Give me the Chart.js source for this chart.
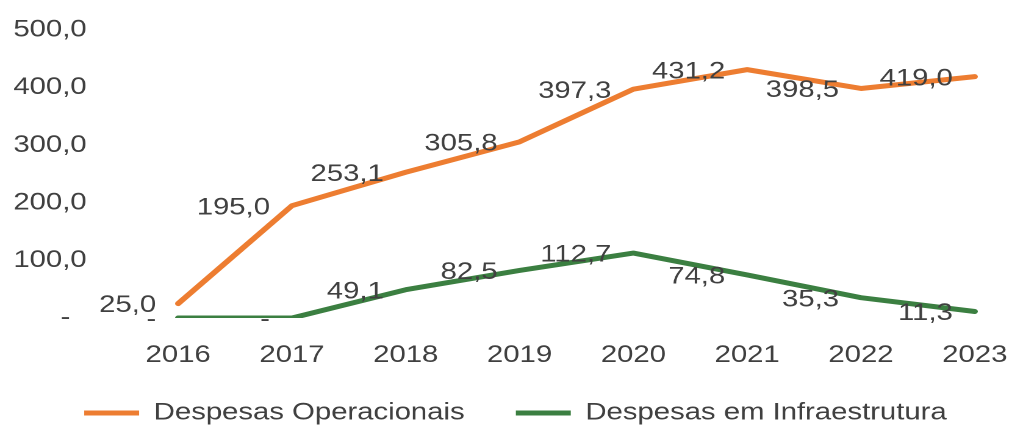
<!DOCTYPE html>
<html><head><meta charset="utf-8">
<script src="https://cdn.jsdelivr.net/npm/chart.js@4.4.0/dist/chart.umd.min.js"></script>
<style>
html,body{margin:0;padding:0;background:#fff;overflow:hidden;}
#wrap{position:absolute;left:0;top:0;width:827px;height:427px;transform:scaleX(1.22);transform-origin:0 0;}
</style></head><body>
<div id="wrap"><canvas id="c"></canvas></div>
<script>
const categories = ['2016','2017','2018','2019','2020','2021','2022','2023'];
const operacionais = [25.0,195.0,253.1,305.8,397.3,431.2,398.5,419.0];
const infraestrutura = [0,0,49.1,82.5,112.7,74.8,35.3,11.3];
const seriesNames = ['Despesas Operacionais','Despesas em Infraestrutura'];
const seriesColors = ['#ED7D31','#3B7F41'];
const yMin = 0, yMax = 500, yStep = 100;

const FONT = {family:"'Liberation Sans', Arial, sans-serif", size:24};
const TXT = '#404040';

function fmt(v){ return v === 0 ? '-' : v.toFixed(1).replace('.', ','); }

const labelPlugin = {
  id:'valueLabels',
  afterDatasetsDraw(chart){
    const ctx = chart.ctx;
    ctx.save();
    ctx.font = FONT.size + 'px ' + FONT.family;
    ctx.fillStyle = TXT;
    ctx.textAlign = 'right';
    ctx.textBaseline = 'middle';
    chart.data.datasets.forEach((ds, i) => {
      const meta = chart.getDatasetMeta(i);
      meta.data.forEach((pt, j) => {
        ctx.fillText(fmt(ds.data[j]), pt.x - 18, pt.y + 2);
      });
    });
    ctx.restore();
  }
};

const legendPlace = {
  id:'legendPlace',
  afterLayout(chart){
    const l = chart.legend;
    if (!l) return;
    l.left += 23; l.right += 23;
    l.top = 359; l.bottom = chart.height;
  }
};

new Chart(document.getElementById('c'), {
  type:'line',
  data:{
    labels:categories,
    datasets:[
      {label:seriesNames[0], data:operacionais, borderColor:seriesColors[0], backgroundColor:seriesColors[0],
       borderWidth:5, pointRadius:0, tension:0, borderCapStyle:'round', borderJoinStyle:'round', pointStyle:'line'},
      {label:seriesNames[1], data:infraestrutura, borderColor:seriesColors[1], backgroundColor:seriesColors[1],
       borderWidth:5, pointRadius:0, tension:0, borderCapStyle:'round', borderJoinStyle:'round', pointStyle:'line'}
    ]
  },
  options:{
    responsive:true, maintainAspectRatio:false, animation:false, devicePixelRatio:2,
    layout:{padding:{top:30, right:28, left:0, bottom:0}},
    plugins:{
      tooltip:{enabled:false},
      legend:{position:'bottom', maxHeight:57,
        labels:{usePointStyle:true, pointStyle:'line', pointStyleWidth:45, font:FONT, color:TXT, padding:42}}
    },
    scales:{
      x:{offset:false, grid:{display:false, drawTicks:false}, border:{display:false},
         ticks:{font:FONT, color:TXT, padding:23, maxRotation:0, autoSkip:false},
         afterFit(s){ s.height = 52; s.paddingLeft = 0; s.paddingRight = 0; }},
      y:{min:yMin, max:yMax, grid:{display:false, drawTicks:false}, border:{display:false},
         ticks:{stepSize:yStep, font:FONT, color:TXT, padding:75,
           callback:(v)=> v === 0 ? '-  ' : fmt(v)},
         afterFit(s){ s.width = 146; s.paddingTop = 0; s.paddingBottom = 0; }}
    }
  },
  plugins:[labelPlugin, legendPlace]
});
</script>
</body></html>
